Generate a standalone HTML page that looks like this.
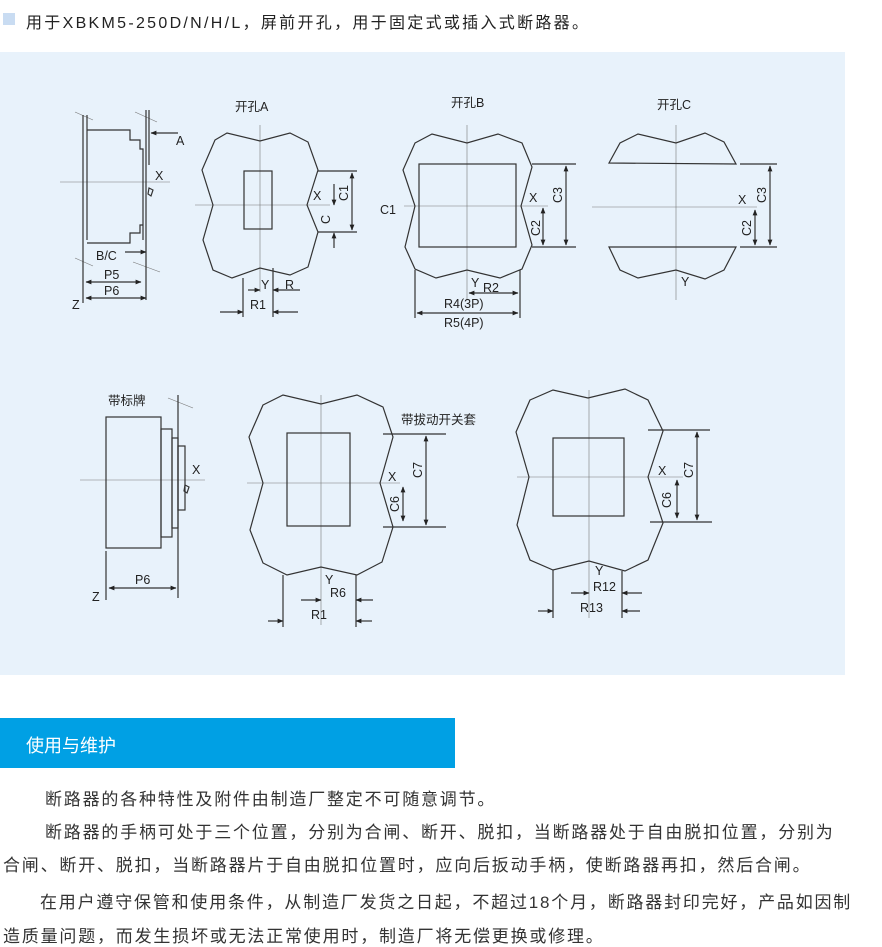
<!DOCTYPE html>
<html><head><meta charset="utf-8"><style>
body{margin:0;width:882px;height:943px;background:#fff;overflow:hidden;font-family:"Liberation Sans","Noto Sans CJK SC",sans-serif;position:relative}
.t{position:absolute;font-size:17px;letter-spacing:1.8px;color:#333;white-space:nowrap}
</style></head><body>
<div style="position:absolute;left:3px;top:13px;width:12px;height:12px;background:#c9dcf2"></div>
<div class="t" style="left:26px;top:9px;font-size:16px;letter-spacing:2.3px;color:#222">用于XBKM5-250D/N/H/L，屏前开孔，用于固定式或插入式断路器。</div>
<div style="position:absolute;left:0;top:52px;width:845px;height:623px;background:#e8f2fb"></div>
<svg style="position:absolute;left:0;top:0" width="882" height="700" font-family="Liberation Sans,Noto Sans CJK SC,sans-serif" font-size="11" fill="none" stroke="#333" stroke-width="1.2">
<defs><marker id="a" viewBox="0 0 10 10" refX="9" refY="5" markerWidth="5" markerHeight="5" orient="auto-start-reverse"><path d="M0,1L10,5L0,9z" fill="#222" stroke="none"/></marker></defs>
<g stroke="#777" stroke-width="0.6">
<line x1="60" y1="182" x2="170" y2="182"/><line x1="260" y1="125" x2="260" y2="292"/><line x1="195" y1="205" x2="330" y2="205"/>
<line x1="467" y1="125" x2="467" y2="300"/><line x1="404" y1="206" x2="548" y2="206"/>
<line x1="676" y1="125" x2="676" y2="300"/><line x1="592" y1="207" x2="757" y2="207"/>
<line x1="80" y1="480" x2="205" y2="480"/><line x1="321" y1="395" x2="321" y2="625"/><line x1="247" y1="483" x2="400" y2="483"/>
<line x1="589" y1="390" x2="589" y2="618"/><line x1="517" y1="477" x2="683" y2="477"/>
<line x1="75" y1="112" x2="93" y2="120"/><line x1="135" y1="112" x2="157" y2="122"/><line x1="75" y1="258" x2="93" y2="266"/><line x1="133" y1="262" x2="160" y2="272"/><line x1="168" y1="398" x2="193" y2="408"/>
</g>
<line x1="83" y1="115" x2="83" y2="303"/><line x1="87" y1="115" x2="87" y2="240"/>
<path d="M87,130H130V140H140V149H143V240M87,243H130V233H140V225H143"/>
<line x1="146" y1="110" x2="146" y2="300"/><line x1="149" y1="110" x2="149" y2="165"/>
<path d="M149,188l4,2l-2,6l-3,-2z"/>
<line x1="178" y1="133" x2="151" y2="133" marker-end="url(#a)"/>
<line x1="125" y1="252" x2="146" y2="252" marker-end="url(#a)"/>
<line x1="86" y1="282" x2="141" y2="282" marker-start="url(#a)" marker-end="url(#a)"/>
<line x1="86" y1="298" x2="146" y2="298" marker-start="url(#a)" marker-end="url(#a)"/>
<polygon points="215,140 227,133 260,141 290,133 308,142 318,170 307,205 318,232 308,267 290,275 260,268 232,278 213,270 203,240 213,205 202,170"/>
<rect x="244" y="171" width="28" height="58"/>
<line x1="318" y1="171" x2="357" y2="171"/><line x1="318" y1="232" x2="357" y2="232"/>
<line x1="352" y1="173" x2="352" y2="230" marker-start="url(#a)" marker-end="url(#a)"/>
<line x1="334" y1="184" x2="334" y2="205" marker-end="url(#a)"/><line x1="334" y1="248" x2="334" y2="233" marker-end="url(#a)"/>
<line x1="243" y1="278" x2="243" y2="317"/><line x1="273" y1="268" x2="273" y2="317"/>
<line x1="248" y1="290" x2="260" y2="290" marker-end="url(#a)"/><line x1="300" y1="290" x2="273" y2="290" marker-end="url(#a)"/>
<line x1="220" y1="312" x2="243" y2="312" marker-end="url(#a)"/><line x1="298" y1="312" x2="273" y2="312" marker-end="url(#a)"/>
<polygon points="415,143 432,134 467,143 498,134 522,143 532,167 521,206 532,245 522,269 500,278 467,270 436,278 415,269 405,247 415,206 403,170"/>
<rect x="419" y="164" width="97" height="83"/>
<line x1="532" y1="164" x2="576" y2="164"/><line x1="532" y1="247" x2="576" y2="247"/>
<line x1="566" y1="166" x2="566" y2="245" marker-start="url(#a)" marker-end="url(#a)"/>
<line x1="543" y1="208" x2="543" y2="245" marker-start="url(#a)" marker-end="url(#a)"/>
<line x1="415" y1="270" x2="415" y2="318"/><line x1="520" y1="270" x2="520" y2="318"/>
<line x1="469" y1="293" x2="518" y2="293" marker-start="url(#a)" marker-end="url(#a)"/>
<line x1="417" y1="313" x2="518" y2="313" marker-start="url(#a)" marker-end="url(#a)"/>
<polygon points="609,163 620,143 638,134 676,143 705,133 724,142 736,164"/>
<polygon points="609,247 620,270 638,278 676,270 705,279 724,270 736,247"/>
<line x1="740" y1="164" x2="777" y2="164"/><line x1="740" y1="247" x2="777" y2="247"/>
<line x1="770" y1="166" x2="770" y2="245" marker-start="url(#a)" marker-end="url(#a)"/>
<line x1="755" y1="210" x2="755" y2="245" marker-start="url(#a)" marker-end="url(#a)"/>
<rect x="106" y="417" width="55" height="131"/><rect x="161" y="429" width="11" height="108"/><rect x="172" y="438" width="6" height="90"/><rect x="178" y="446" width="7" height="64"/>
<line x1="178" y1="395" x2="178" y2="598"/><line x1="106" y1="551" x2="106" y2="600"/>
<path d="M185,485l4,2l-2,6l-3,-2z"/>
<line x1="109" y1="588" x2="176" y2="588" marker-start="url(#a)" marker-end="url(#a)"/>
<polygon points="263,405 283,395 321,404 357,395 383,407 393,437 380,483 393,527 382,562 357,575 321,567 287,575 263,563 250,530 263,483 249,437"/>
<rect x="287" y="433" width="63" height="93"/>
<line x1="383" y1="434" x2="446" y2="434"/><line x1="383" y1="527" x2="446" y2="527"/>
<line x1="426" y1="436" x2="426" y2="525" marker-start="url(#a)" marker-end="url(#a)"/>
<line x1="403" y1="487" x2="403" y2="521" marker-start="url(#a)" marker-end="url(#a)"/>
<line x1="283" y1="575" x2="283" y2="627"/><line x1="356" y1="575" x2="356" y2="627"/>
<line x1="301" y1="600" x2="321" y2="600" marker-end="url(#a)"/><line x1="373" y1="600" x2="356" y2="600" marker-end="url(#a)"/>
<line x1="268" y1="621" x2="283" y2="621" marker-end="url(#a)"/><line x1="372" y1="621" x2="356" y2="621" marker-end="url(#a)"/>
<polygon points="530,400 553,390 588,398 625,389 648,400 663,431 648,477 663,523 648,560 625,571 589,561 553,570 530,560 517,525 529,477 516,432"/>
<rect x="553" y="438" width="71" height="78"/>
<line x1="648" y1="430" x2="710" y2="430"/><line x1="650" y1="522" x2="712" y2="522"/>
<line x1="697" y1="432" x2="697" y2="520" marker-start="url(#a)" marker-end="url(#a)"/>
<line x1="677" y1="480" x2="677" y2="518" marker-start="url(#a)" marker-end="url(#a)"/>
<line x1="553" y1="570" x2="553" y2="618"/><line x1="622" y1="571" x2="622" y2="618"/>
<line x1="571" y1="593" x2="589" y2="593" marker-end="url(#a)"/><line x1="642" y1="593" x2="622" y2="593" marker-end="url(#a)"/>
<line x1="538" y1="611" x2="553" y2="611" marker-end="url(#a)"/><line x1="640" y1="611" x2="622" y2="611" marker-end="url(#a)"/>
<g fill="#222" stroke="none" font-size="12.5">
<text x="235" y="111">开孔A</text><text x="451" y="107">开孔B</text><text x="657" y="109">开孔C</text>
<text x="176" y="145">A</text><text x="155" y="180">X</text><text x="96" y="260">B/C</text><text x="104" y="279">P5</text><text x="104" y="295">P6</text><text x="72" y="309">Z</text>
<text x="313" y="200">X</text><text x="261" y="289">Y</text><text x="285" y="289">R</text><text x="250" y="309">R1</text>
<text x="380" y="214">C1</text><text x="529" y="202">X</text><text x="471" y="287">Y</text><text x="483" y="292">R2</text><text x="444" y="308">R4(3P)</text><text x="444" y="327">R5(4P)</text>
<text x="738" y="204">X</text><text x="681" y="286">Y</text>
<text x="108" y="405">带标牌</text><text x="192" y="474">X</text><text x="135" y="584">P6</text><text x="92" y="601">Z</text>
<text x="401" y="424">带拔动开关套</text><text x="388" y="481">X</text><text x="325" y="584">Y</text><text x="330" y="597">R6</text><text x="311" y="619">R1</text>
<text x="658" y="475">X</text><text x="595" y="575">Y</text><text x="593" y="591">R12</text><text x="580" y="612">R13</text>
<text transform="translate(348,193) rotate(-90)" x="-8" y="0">C1</text>
<text transform="translate(330,220) rotate(-90)" x="-4" y="0">C</text>
<text transform="translate(562,195) rotate(-90)" x="-8" y="0">C3</text>
<text transform="translate(540,228) rotate(-90)" x="-8" y="0">C2</text>
<text transform="translate(766,195) rotate(-90)" x="-8" y="0">C3</text>
<text transform="translate(751,228) rotate(-90)" x="-8" y="0">C2</text>
<text transform="translate(422,470) rotate(-90)" x="-8" y="0">C7</text>
<text transform="translate(399,504) rotate(-90)" x="-8" y="0">C6</text>
<text transform="translate(693,470) rotate(-90)" x="-8" y="0">C7</text>
<text transform="translate(671,500) rotate(-90)" x="-8" y="0">C6</text>
</g>
</svg>
<div style="position:absolute;left:0;top:718px;width:455px;height:50px;background:#00a0e4"></div>
<div class="t" style="left:26px;top:732px;color:#fff;font-size:18px;letter-spacing:0">使用与维护</div>
<div class="t" style="left:45px;top:785px">断路器的各种特性及附件由制造厂整定不可随意调节。</div>
<div class="t" style="left:45px;top:818px">断路器的手柄可处于三个位置，分别为合闸、断开、脱扣，当断路器处于自由脱扣位置，分别为</div>
<div class="t" style="left:3px;top:851px">合闸、断开、脱扣，当断路器片于自由脱扣位置时，应向后扳动手柄，使断路器再扣，然后合闸。</div>
<div class="t" style="left:40px;top:888px">在用户遵守保管和使用条件，从制造厂发货之日起，不超过18个月，断路器封印完好，产品如因制</div>
<div class="t" style="left:3px;top:922px">造质量问题，而发生损坏或无法正常使用时，制造厂将无偿更换或修理。</div>
</body></html>
